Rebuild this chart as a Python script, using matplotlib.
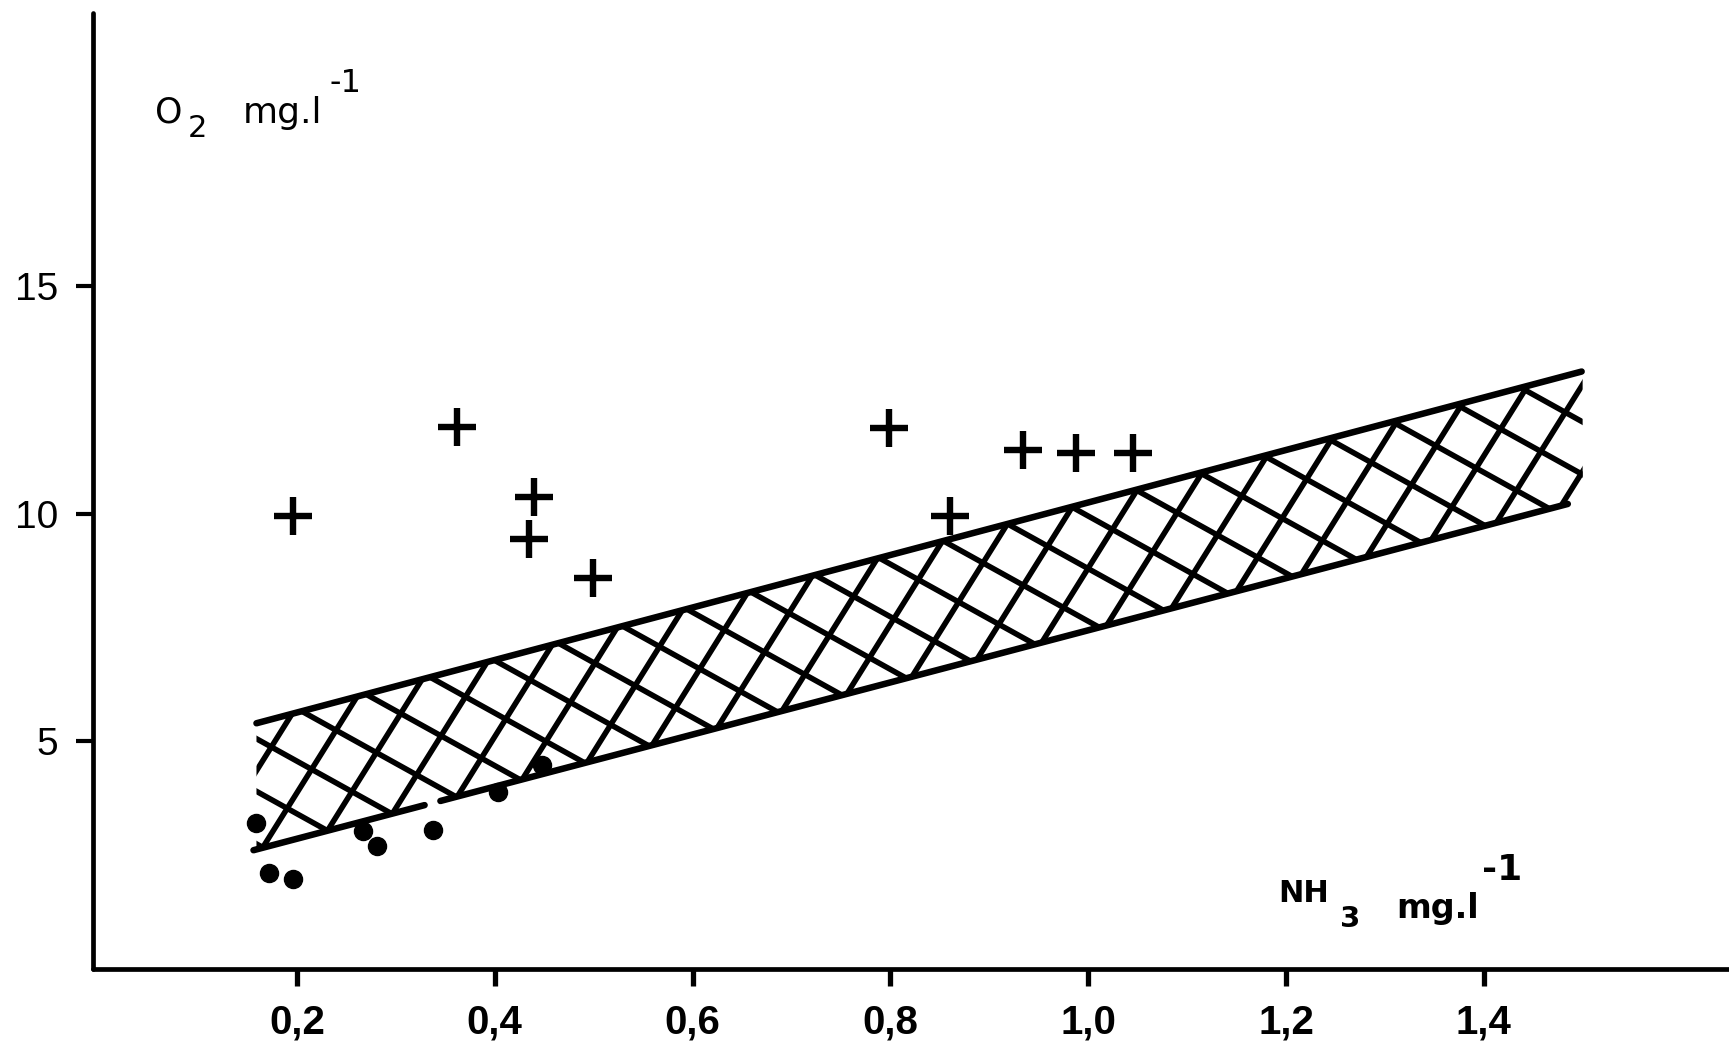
import numpy as np
import matplotlib
matplotlib.use("Agg")
import matplotlib.pyplot as plt
from matplotlib.patches import Polygon

# ---- data -------------------------------------------------------------
# fish survival (+) and mortality (•) observations: NH3 vs dissolved O2
survive_nh3 = [0.196, 0.362, 0.440, 0.435, 0.499, 0.799, 0.860, 0.934, 0.988, 1.045]
survive_o2 = [9.95, 11.91, 10.36, 9.45, 8.58, 11.89, 9.95, 11.40, 11.34, 11.32]

death_nh3 = [0.159, 0.172, 0.196, 0.267, 0.281, 0.338, 0.403, 0.448]
death_o2 = [3.20, 2.10, 1.97, 3.02, 2.69, 3.04, 3.88, 4.47]

# critical zone boundaries
upper_nh3 = [0.159, 1.499]
upper_o2 = [5.39, 13.12]
lower_nh3 = [0.156, 1.485]
lower_o2 = [2.60, 10.21]
lower_break = [0.329, 0.345]      # small gap in the lower boundary
hatch_end_nh3 = 1.500

x_ticks = [0.2, 0.4, 0.6, 0.8, 1.0, 1.2, 1.4]
x_tick_labels = ["0,2", "0,4", "0,6", "0,8", "1,0", "1,2", "1,4"]
y_ticks = [5, 10, 15]
y_tick_labels = ["5", "10", "15"]

# ---- figure -----------------------------------------------------------
W, H, DPI = 1729, 1044, 100
fig = plt.figure(figsize=(W / DPI, H / DPI), dpi=DPI)
ax = fig.add_axes([92.7 / W, (H - 968.5) / H, (W - 92.7) / W, 955.5 / H])
ax.set_xlim(-0.0066, 1.648)
ax.set_ylim(0, 21.0)

for s in ("top", "right"):
    ax.spines[s].set_visible(False)
for s in ("left", "bottom"):
    ax.spines[s].set_linewidth(3.4)
    ax.spines[s].set_color("black")
    ax.spines[s].set_capstyle("round")

ax.set_xticks(x_ticks)
ax.set_xticklabels(x_tick_labels, family="Liberation Sans", fontweight="bold", fontsize=29)
ax.set_yticks(y_ticks)
ax.set_yticklabels(y_tick_labels, family="Liberation Sans", fontsize=28)
ax.tick_params(axis="x", length=12, width=3.8, pad=13, direction="out")
ax.tick_params(axis="y", length=12, width=3.0, pad=13, direction="out")


def line_y(xs, ys, x):
    return ys[0] + (ys[1] - ys[0]) * (x - xs[0]) / (xs[1] - xs[0])


# boundary lines
lw_edge = 4.7
ax.plot(upper_nh3, upper_o2, color="black", lw=lw_edge, solid_capstyle="round")
xa = [lower_nh3[0], lower_break[0]]
xb = [lower_break[1], lower_nh3[1]]
ax.plot(xa, [line_y(lower_nh3, lower_o2, v) for v in xa], color="black",
        lw=lw_edge, solid_capstyle="round")
ax.plot(xb, [line_y(lower_nh3, lower_o2, v) for v in xb], color="black",
        lw=lw_edge, solid_capstyle="round")

# cross-hatched zone between the boundaries
x0 = upper_nh3[0]
x1 = hatch_end_nh3
zone = Polygon([(x0, line_y(lower_nh3, lower_o2, x0)),
                (x0, line_y(upper_nh3, upper_o2, x0)),
                (x1, line_y(upper_nh3, upper_o2, x1)),
                (x1, line_y(lower_nh3, lower_o2, x1))],
               closed=True, facecolor="none", edgecolor="none", transform=ax.transData)
ax.add_patch(zone)

tr = ax.transData
poly_disp = tr.transform(zone.get_xy())
anchor = np.array([1525.0, H - 390.0])   # lattice phase, display pixels
spacing = 46.0
for ang in (-29.0, 58.0):
    t = np.deg2rad(ang)
    u = np.array([np.cos(t), np.sin(t)])
    n = np.array([-np.sin(t), np.cos(t)])
    proj = (poly_disp - anchor) @ n
    k0 = int(np.floor(proj.min() / spacing)) - 1
    k1 = int(np.ceil(proj.max() / spacing)) + 1
    L = 3000.0
    for k in range(k0, k1 + 1):
        c = anchor + k * spacing * n
        seg = np.vstack([c - L * u, c + L * u])
        seg_d = tr.inverted().transform(seg)
        ln, = ax.plot(seg_d[:, 0], seg_d[:, 1], color="black", lw=4.0,
                      solid_capstyle="round")
        ln.set_clip_path(zone)

# observations
ax.plot(survive_nh3, survive_o2, linestyle="none", marker="+", color="black",
        markersize=27, markeredgewidth=4.6)
ax.plot(death_nh3, death_o2, linestyle="none", marker="o", color="black",
        markersize=13)

# axis titles
fam = "DejaVu Sans"
ax.text(0.0564, 18.60, "O", family=fam, fontsize=25, ha="left", va="baseline")
ax.text(0.0898, 18.27, "2", family=fam, fontsize=22, ha="left", va="baseline")
ax.text(0.1454, 18.58, "mg.l", family=fam, fontsize=26, ha="left", va="baseline")
ax.text(0.2330, 19.26, "-1", family=fam, fontsize=23, ha="left", va="baseline")

ax.text(1.192, 1.46, "NH", family=fam, fontsize=22, fontweight="bold", ha="left", va="baseline")
ax.text(1.2546, 0.91, "3", family=fam, fontsize=21, fontweight="bold", ha="left", va="baseline")
ax.text(1.312, 1.11, "mg.l", family=fam, fontsize=24, fontweight="bold", ha="left", va="baseline")
ax.text(1.398, 1.945, "-1", family=fam, fontsize=26, fontweight="bold", ha="left", va="baseline")

fig.savefig("out.png", dpi=DPI, facecolor="white")
